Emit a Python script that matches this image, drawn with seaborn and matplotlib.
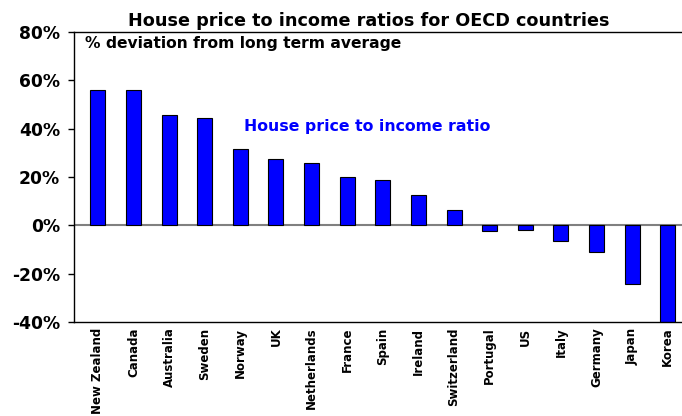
import matplotlib
matplotlib.use('Agg')
import matplotlib.pyplot as plt
import seaborn as sns
import pandas as pd
from matplotlib.ticker import FuncFormatter

# data (% deviation from long term average)
countries = ["New Zealand", "Canada", "Australia", "Sweden", "Norway", "UK",
             "Netherlands", "France", "Spain", "Ireland", "Switzerland",
             "Portugal", "US", "Italy", "Germany", "Japan", "Korea"]
deviation = [56.1, 56.1, 45.6, 44.5, 31.6, 27.6, 25.8, 20.1, 18.8, 12.7, 6.2,
             -2.2, -1.9, -6.5, -10.9, -24.2, -41.0]
y_ticks = [-40, -20, 0, 20, 40, 60, 80]

df = pd.DataFrame({"country": countries, "deviation": deviation})

sns.set_style("white")
plt.rcParams['font.family'] = ['DejaVu Sans']
plt.rcParams['font.weight'] = 'bold'
plt.rcParams['text.color'] = 'black'
plt.rcParams['xtick.color'] = 'black'
plt.rcParams['ytick.color'] = 'black'

fig, ax = plt.subplots(figsize=(6.82, 4.16), dpi=100)
fig.subplots_adjust(left=0.1085, right=1.0, top=0.923, bottom=0.226)

sns.barplot(data=df, x="country", y="deviation", color="#0000FF",
            saturation=1, edgecolor="black", linewidth=0.8, width=0.42, ax=ax)

ax.axhline(0, color="#808080", lw=1.5, zorder=0)
ax.set_ylim(-40, 80)
ax.set_xlim(-0.67, 16.4)
ax.set_yticks(y_ticks)
ax.yaxis.set_major_formatter(FuncFormatter(lambda v, p: f"{v:.0f}%"))
ax.tick_params(axis='y', labelsize=12.3, length=4, width=1, direction='out',
               left=True, pad=6)
ax.tick_params(axis='x', labelsize=8.5, length=0, pad=4)
for lab in ax.get_xticklabels():
    lab.set_rotation(90)
    lab.set_fontweight('bold')
for lab in ax.get_yticklabels():
    lab.set_fontweight('bold')
ax.set_xlabel("")
ax.set_ylabel("")

for side in ["left", "top", "bottom"]:
    ax.spines[side].set_color("black")
    ax.spines[side].set_linewidth(1)
ax.spines["right"].set_visible(False)

ax.set_title("House price to income ratios for OECD countries",
             fontsize=12.7, fontweight='bold', pad=4, x=0.484)
ax.text(0.018, 0.985, "% deviation from long term average", transform=ax.transAxes,
        fontsize=11.2, fontweight='bold', va='top', ha='left')
ax.text(4.1, 41, "House price to income ratio", color="#0000FF",
        fontsize=11.3, fontweight='bold', va='center', ha='left')

plt.savefig("out.png", dpi=100)
plt.close()
